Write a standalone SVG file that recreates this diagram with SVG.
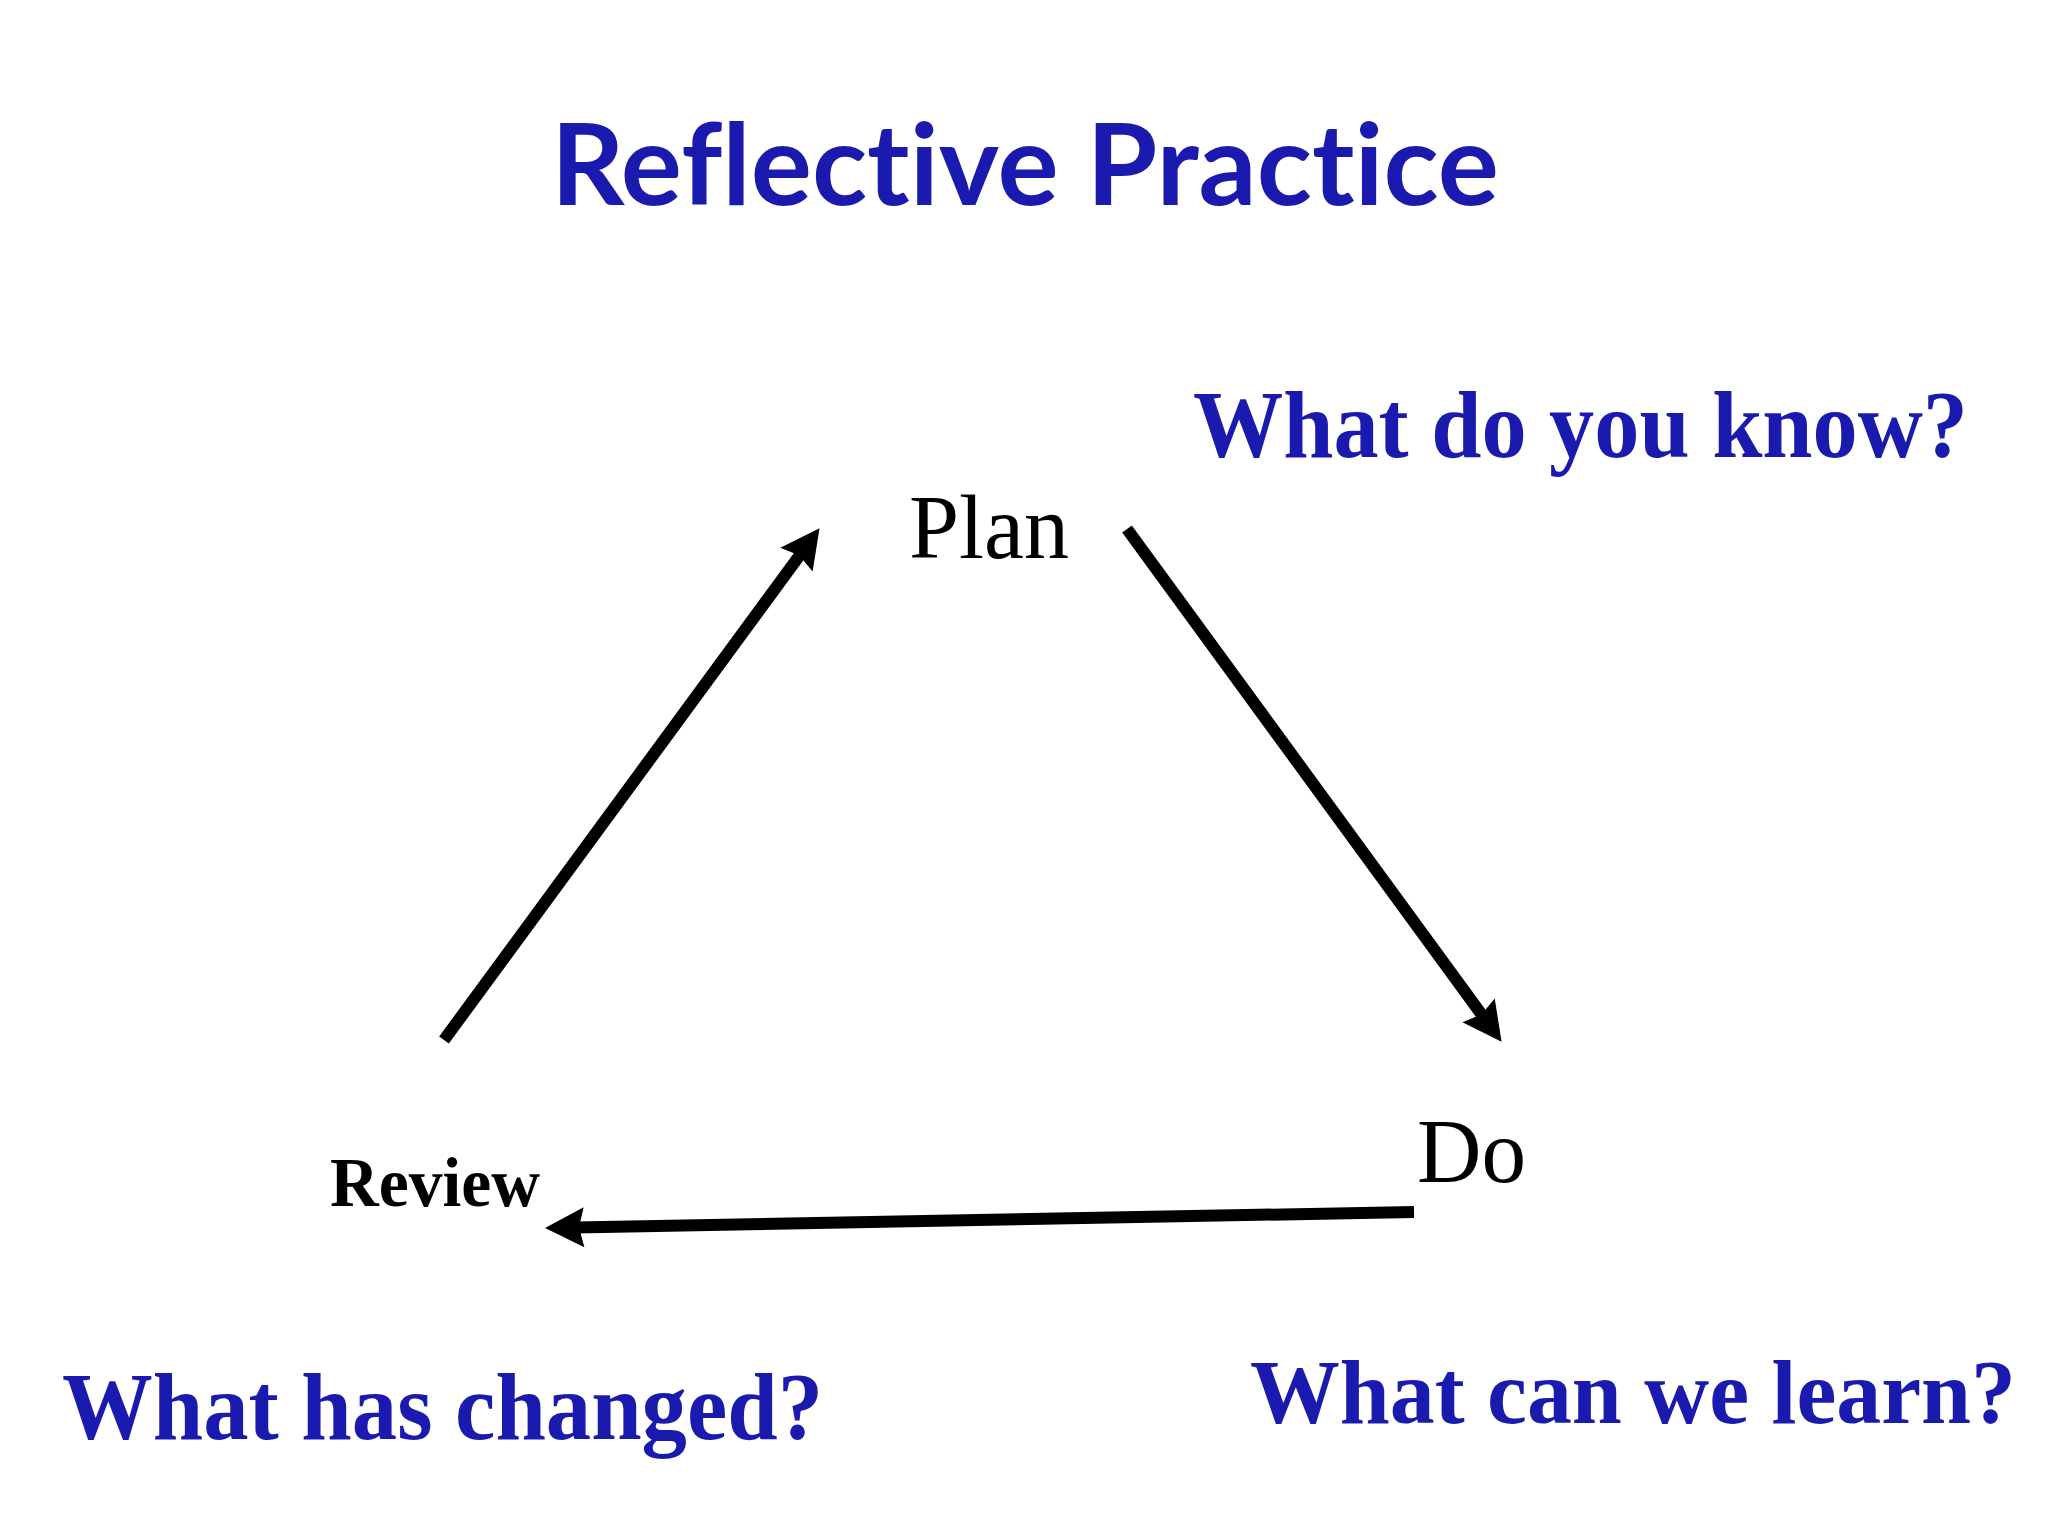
<svg xmlns="http://www.w3.org/2000/svg" width="2048" height="1536" viewBox="0 0 2048 1536">
<style>
.title{font-family:Lato,"Open Sans","Liberation Sans",sans-serif;font-weight:700;fill:#1a1aae;font-variant-ligatures:none;font-feature-settings:"liga" 0,"clig" 0,"dlig" 0;}
.q{font-family:"Liberation Serif","Times New Roman",serif;font-weight:700;fill:#1a1aae;font-size:95px;}
.node{font-family:"Liberation Serif","Times New Roman",serif;fill:#000;}
.conn{stroke:#000;stroke-width:12;fill:none;stroke-linecap:butt;}
</style>
<defs>
<marker id="ah" markerUnits="userSpaceOnUse" viewBox="-10 -22 44 44" markerWidth="44" markerHeight="44" refX="0" refY="0" orient="auto" overflow="visible">
<path d="M31,0 L-8,-20 L-3,0 L-8,20 Z" fill="#000"/>
</marker>
</defs>
<rect width="2048" height="1536" fill="#fff"/>
<text class="title" x="551" y="205" font-size="113" textLength="948" lengthAdjust="spacingAndGlyphs">Reflective Practice</text>
<g id="q-know"><text class="q" x="1193" y="457" textLength="775" lengthAdjust="spacingAndGlyphs">What do you know?</text></g>
<g id="q-changed"><text class="q" x="62" y="1439" textLength="761" lengthAdjust="spacingAndGlyphs">What has changed?</text></g>
<g id="q-learn"><text class="q" x="1250" y="1423" font-size="92" style="font-size:92px" textLength="766" lengthAdjust="spacingAndGlyphs">What can we learn?</text></g>
<g id="plan"><text class="node" x="909" y="558" font-size="92" textLength="160" lengthAdjust="spacingAndGlyphs">Plan</text></g>
<g id="do"><text class="node" x="1417" y="1182" font-size="90" textLength="109" lengthAdjust="spacingAndGlyphs">Do</text></g>
<g id="review"><text class="node" x="330" y="1206" font-size="70" font-weight="700" textLength="210" lengthAdjust="spacingAndGlyphs">Review</text></g>
<g id="connectors">
<line class="conn" x1="444" y1="1040" x2="801.2" y2="553.2" marker-end="url(#ah)"/>
<line class="conn" x1="1127" y1="529" x2="1483.3" y2="1016.8" marker-end="url(#ah)"/>
<line class="conn" x1="1414" y1="1212" x2="576" y2="1227.4" marker-end="url(#ah)"/>
</g>
</svg>
